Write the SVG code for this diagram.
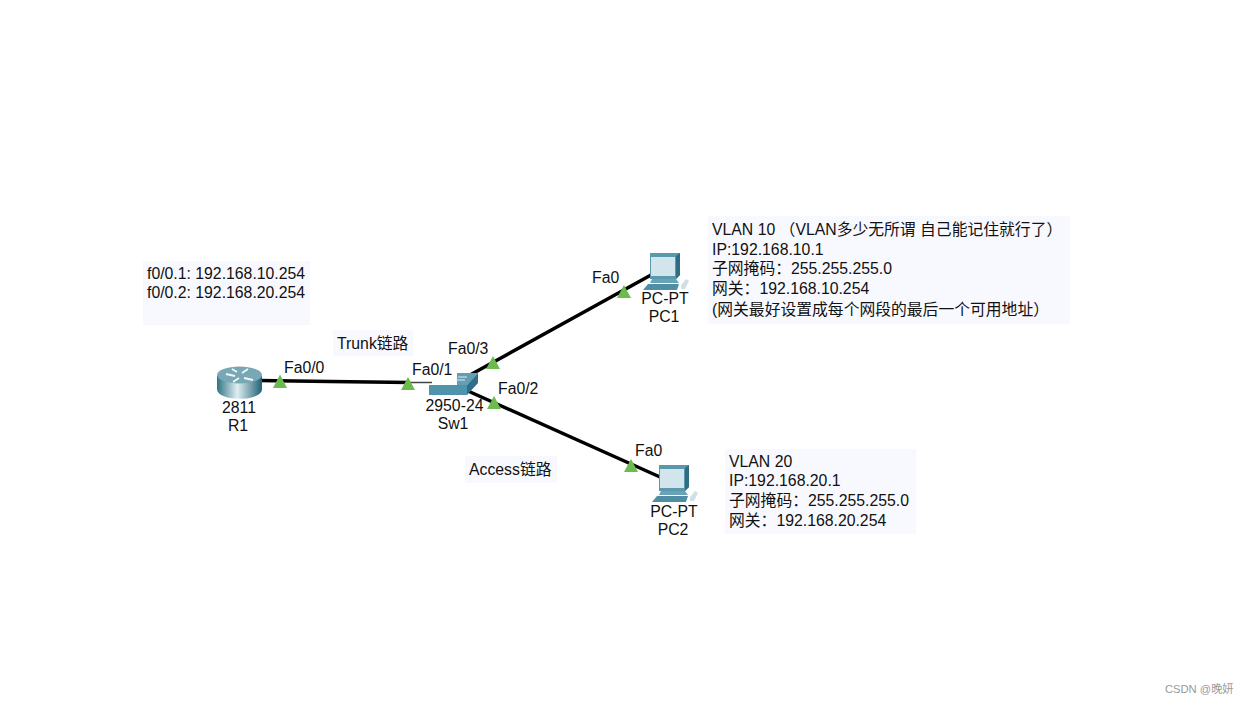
<svg xmlns="http://www.w3.org/2000/svg" width="1248" height="704" viewBox="0 0 1248 704">
<defs>
<style>
text{font-family:"Liberation Sans","Noto Sans CJK SC",sans-serif;font-size:15.8px;fill:#111}
.c{text-anchor:middle}
.note{fill:#f8f9ff}
.link{stroke:#000;stroke-width:3.500;fill:none}
.tri{fill:#6cbb4e}
</style>
<linearGradient id="rg" x1="0" x2="1" y1="0" y2="0"><stop offset="0" stop-color="#2f7386"/><stop offset=".45" stop-color="#e0eef1"/><stop offset="1" stop-color="#1f6074"/></linearGradient>
<g id="pc">
<path d="M2 0H32V22L28 26H2Z" fill="#5a98ae"/>
<path d="M28 3L32 0V22L28 26Z" fill="#2f6d84"/>
<rect x="3" y="4" width="24" height="19" fill="#d3e5ec"/>
<path d="M4 26H28L31 30H2Z" fill="#6aa3b6"/>
<path d="M0 31H31L29 37H-5Z" fill="#4f8ea5"/>
<path d="M33 32L38 26L41 28L37 36H33Z" fill="#cfe0e5"/>
</g>
</defs>
<rect width="1248" height="704" fill="#fff"/>
<g id="connectors">
<path class="link" d="M258 380.500L330 381.500L410 382.500"/>
<path d="M410 382.500H432" stroke="#444" stroke-width="1.500"/>
<path class="link" d="M470 375L651 275"/>
<path class="link" d="M468 391L660 477"/>
<path class="tri" d="M280 374.500L287 388H273Z"/>
<path class="tri" d="M408 377L415 390H401Z"/>
<path class="tri" d="M493 356L500 369H486Z"/>
<path class="tri" d="M494 396L501 409H487Z"/>
<path class="tri" d="M624 285L631 298H617Z"/>
<path class="tri" d="M631 459L638 472H624Z"/>
</g>
<g id="R1">
<path d="M217 376V389C217 402 262 402 262 389V376Z" fill="url(#rg)"/>
<ellipse cx="239.500" cy="375" rx="22.500" ry="8.500" fill="#78a7b6"/>
<path d="M226 374l9 2M244 378l9 2M233 382l6-4M242 373l6-4M232 369l5 3" stroke="#f2f8f9" stroke-width="1.800"/>
<text class="c" x="239" y="413">2811</text><text class="c" x="238" y="431">R1</text>
<text x="284" y="373">Fa0/0</text>
</g>
<g id="Sw1">
<path d="M457 373H478L467 385H457Z" fill="#639fb4"/>
<path d="M429 385H467V395H429Z" fill="#4f93ac"/>
<path d="M467 385L478 373V383L467 395Z" fill="#2f7088"/>
<path d="M458 377h9M456 380h9" stroke="#dcecf0"/>
<text class="c" x="454.500" y="411">2950-24</text><text class="c" x="453" y="429">Sw1</text>
<text x="412" y="375">Fa0/1</text><text x="448" y="354">Fa0/3</text><text x="498" y="394">Fa0/2</text>
</g>
<g id="PC1">
<use href="#pc" x="648" y="253"/>
<text class="c" x="665" y="304">PC-PT</text><text class="c" x="664" y="322">PC1</text>
<text x="592" y="283">Fa0</text>
</g>
<g id="PC2">
<use href="#pc" x="657" y="465"/>
<text class="c" x="674" y="517">PC-PT</text><text class="c" x="673" y="535">PC2</text>
<text x="635" y="456">Fa0</text>
</g>
<g id="note-r1"><rect class="note" x="143" y="261" width="167" height="64"/>
<text x="147" y="279">f0/0.1: 192.168.10.254</text><text x="147" y="298">f0/0.2: 192.168.20.254</text></g>
<g id="note-trunk"><rect class="note" x="333" y="330" width="80" height="26"/>
<text x="337" y="349">Trunk链路</text></g>
<g id="note-access"><rect class="note" x="465" y="456" width="92" height="27"/>
<text x="469" y="475">Access链路</text></g>
<g id="note-vlan10"><rect class="note" x="708" y="216" width="362" height="108"/>
<text x="712" y="235">VLAN 10 （VLAN多少无所谓 自己能记住就行了）</text>
<text x="712" y="255">IP:192.168.10.1</text>
<text x="712" y="274">子网掩码：255.255.255.0</text>
<text x="712" y="294">网关：192.168.10.254</text>
<text x="712" y="315">(网关最好设置成每个网段的最后一个可用地址）</text></g>
<g id="note-vlan20"><rect class="note" x="725" y="449" width="191" height="85"/>
<text x="729" y="467">VLAN 20</text>
<text x="729" y="486">IP:192.168.20.1</text>
<text x="729" y="506">子网掩码：255.255.255.0</text>
<text x="729" y="526">网关：192.168.20.254</text></g>
<text x="1165" y="693" style="font-size:11.200px;fill:#999">CSDN @晚妍</text>
</svg>
